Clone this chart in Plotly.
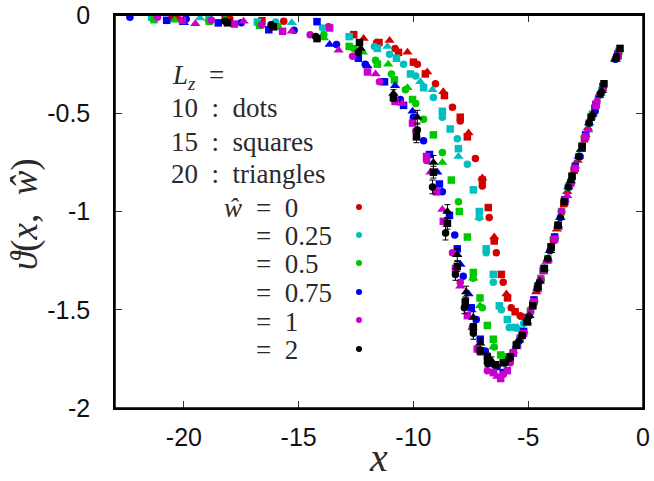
import plotly.graph_objects as go

# ---------------- data ----------------
R_DOT_X = [-20.3, -18.0, -15.65, -13.7, -11.6, -10.8, -9.83, -9.04, -8.3, -7.96, -7.3, -7.0, -6.7, -6.39, -6.09, -5.74, -5.35, -4.9, -4.45, -4.0, -3.55, -3.1, -2.65, -2.2, -1.9, -1.15]
R_DOT_Y = [-0.015, -0.019, -0.032, -0.06, -0.14, -0.17, -0.25, -0.35, -0.47, -0.54, -0.73, -0.87, -1.03, -1.21, -1.36, -1.49, -1.53, -1.50, -1.35, -1.18, -1.00, -0.83, -0.665, -0.505, -0.41, -0.21]
R_SQ_X = [-20.5, -18.2, -16.6, -12.6, -11.5, -10.65, -10.0, -9.48, -8.65, -7.96, -7.65, -7.0, -6.74, -6.48, -6.17, -5.9, -5.57, -5.13, -4.8, -4.35, -3.9, -3.45, -3.0, -2.55, -2.1, -1.75, -1.1]
R_SQ_Y = [-0.01, -0.015, -0.029, -0.10, -0.14, -0.19, -0.24, -0.30, -0.41, -0.52, -0.62, -0.84, -0.98, -1.15, -1.32, -1.44, -1.51, -1.54, -1.47, -1.30, -1.145, -0.96, -0.79, -0.63, -0.475, -0.365, -0.20]
R_TRI_X = [-20.45, -18.9, -12.17, -11.04, -10.26, -9.4, -8.7, -7.6, -7.0, -6.48, -5.95, -5.2, -4.65, -4.2, -3.75, -3.3, -2.85, -2.4, -1.8, -1.2]
R_TRI_Y = [-0.012, -0.02, -0.12, -0.13, -0.19, -0.29, -0.39, -0.60, -0.83, -1.13, -1.42, -1.54, -1.41, -1.255, -1.09, -0.90, -0.74, -0.575, -0.385, -0.225]

C_DOT_X = [-16.0, -13.96, -11.7, -11.04, -10.43, -9.9, -9.13, -8.74, -8.09, -7.65, -7.13, -6.83, -6.52, -6.17, -5.83, -5.2, -4.75, -4.3, -3.85, -3.4, -2.95, -2.5, -2.05, -1.15]
C_DOT_Y = [-0.036, -0.066, -0.16, -0.20, -0.25, -0.31, -0.42, -0.52, -0.63, -0.76, -1.03, -1.21, -1.36, -1.50, -1.59, -1.57, -1.45, -1.29, -1.13, -0.94, -0.77, -0.61, -0.455, -0.21]
C_SQ_X = [-21.4, -18.9, -16.8, -12.8, -11.57, -10.74, -10.13, -9.56, -8.74, -8.4, -8.04, -7.39, -7.13, -6.83, -6.52, -6.26, -5.91, -5.57, -5.04, -4.6, -4.15, -3.7, -3.25, -2.8, -2.35, -1.8, -1.1]
C_SQ_Y = [-0.012, -0.01, -0.036, -0.11, -0.17, -0.22, -0.30, -0.37, -0.49, -0.58, -0.68, -0.89, -1.0, -1.19, -1.32, -1.48, -1.55, -1.59, -1.555, -1.39, -1.24, -1.07, -0.875, -0.72, -0.55, -0.385, -0.20]
C_TRI_X = [-19.3, -15.3, -11.13, -9.7, -9.17, -8.04, -7.13, -5.39, -4.95, -4.5, -4.05, -3.6, -3.15, -2.7, -2.25, -1.2]
C_TRI_Y = [-0.015, -0.04, -0.16, -0.34, -0.38, -0.72, -1.03, -1.60, -1.53, -1.355, -1.20, -1.03, -0.845, -0.685, -0.52, -0.225]

G_DOT_X = [-15.9, -13.9, -12.6, -11.65, -10.96, -10.35, -9.9, -9.56, -8.74, -8.04, -7.4, -7.0, -6.48, -6.0, -5.5, -5.05, -4.6, -4.15, -3.7, -3.25, -2.8, -2.35, -1.9, -1.2]
G_DOT_Y = [-0.058, -0.10, -0.17, -0.23, -0.30, -0.38, -0.45, -0.53, -0.70, -0.95, -1.34, -1.49, -1.69, -1.74, -1.67, -1.56, -1.39, -1.24, -1.07, -0.875, -0.72, -0.55, -0.41, -0.225]
G_SQ_X = [-21.3, -18.9, -16.7, -12.8, -11.57, -10.83, -10.04, -9.13, -8.35, -8.0, -7.65, -7.39, -7.1, -6.78, -6.52, -6.2, -5.9, -5.35, -4.9, -4.45, -4.0, -3.55, -3.1, -2.65, -2.2, -1.75, -1.05]
G_SQ_Y = [-0.024, -0.032, -0.053, -0.16, -0.25, -0.33, -0.43, -0.61, -0.84, -1.0, -1.13, -1.31, -1.44, -1.58, -1.65, -1.73, -1.74, -1.645, -1.505, -1.34, -1.18, -1.0, -0.825, -0.665, -0.505, -0.365, -0.185]
G_TRI_X = [-20.4, -18.2, -13.9, -12.2, -11.1, -10.26, -8.74, -7.39, -7.1, -6.52, -5.65, -5.2, -4.75, -4.3, -3.85, -3.4, -2.95, -2.5, -1.85, -1.15]
G_TRI_Y = [-0.027, -0.02, -0.117, -0.19, -0.25, -0.37, -0.75, -1.34, -1.48, -1.69, -1.71, -1.61, -1.45, -1.29, -1.13, -0.94, -0.77, -0.61, -0.40, -0.21]

B_DOT_X = [-22.35, -19.9, -17.5, -15.2, -13.35, -12.1, -10.57, -10.0, -9.56, -8.74, -8.2, -7.83, -7.26, -6.87, -6.35, -5.85, -5.4, -4.95, -4.5, -4.05, -3.6, -3.15, -2.74, -2.09, -1.2]
B_DOT_Y = [-0.012, -0.02, -0.04, -0.078, -0.15, -0.25, -0.43, -0.52, -0.64, -0.90, -1.12, -1.33, -1.55, -1.71, -1.79, -1.75, -1.66, -1.53, -1.355, -1.20, -1.03, -0.845, -0.72, -0.49, -0.225]
B_SQ_X = [-20.75, -18.5, -16.3, -14.2, -12.4, -11.26, -10.43, -9.3, -8.87, -8.43, -8.09, -7.48, -7.09, -6.74, -6.09, -5.65, -5.2, -4.75, -4.3, -3.85, -3.4, -2.95, -2.5, -2.05, -1.75, -1.1]
B_SQ_Y = [-0.027, -0.04, -0.075, -0.034, -0.22, -0.34, -0.46, -0.71, -0.86, -1.02, -1.19, -1.49, -1.65, -1.76, -1.82, -1.72, -1.61, -1.45, -1.29, -1.13, -0.94, -0.77, -0.61, -0.455, -0.365, -0.20]
B_TRI_X = [-20.0, -13.65, -12.0, -10.8, -10.04, -8.96, -7.95, -7.6, -6.6, -5.5, -5.05, -4.6, -4.15, -3.7, -3.25, -2.8, -2.35, -1.9, -1.15]
B_TRI_Y = [-0.04, -0.15, -0.26, -0.36, -0.49, -0.80, -1.27, -1.42, -1.78, -1.68, -1.56, -1.39, -1.24, -1.07, -0.875, -0.72, -0.55, -0.41, -0.21]

M_DOT_X = [-21.15, -18.8, -16.6, -14.5, -12.65, -11.48, -9.9, -9.43, -8.3, -7.96, -7.43, -6.78, -6.1, -5.78, -5.35, -4.9, -4.45, -4.0, -3.55, -3.13, -2.65, -2.0, -1.1]
M_DOT_Y = [-0.012, -0.027, -0.05, -0.10, -0.21, -0.34, -0.59, -0.74, -1.21, -1.36, -1.59, -1.81, -1.83, -1.77, -1.64, -1.51, -1.345, -1.18, -1.0, -0.86, -0.665, -0.44, -0.20]
M_SQ_X = [-20.06, -17.8, -15.7, -13.65, -12.0, -10.8, -10.04, -9.43, -9.0, -8.7, -8.17, -7.65, -7.22, -6.52, -6.2, -5.91, -5.65, -5.2, -4.75, -4.3, -3.85, -3.4, -2.95, -2.5, -2.05, -1.75, -1.1]
M_SQ_Y = [-0.027, -0.046, -0.083, -0.066, -0.29, -0.44, -0.55, -0.72, -0.90, -1.05, -1.29, -1.53, -1.70, -1.82, -1.85, -1.81, -1.72, -1.62, -1.46, -1.30, -1.14, -0.95, -0.78, -0.62, -0.46, -0.37, -0.21]
M_TRI_X = [-19.5, -17.4, -15.3, -13.26, -11.65, -10.48, -9.26, -8.74, -7.96, -7.43, -6.35, -5.5, -5.05, -4.6, -4.15, -3.7, -3.3, -2.39, -1.87, -1.15]
M_TRI_Y = [-0.044, -0.032, -0.083, -0.18, -0.30, -0.45, -0.80, -0.99, -1.38, -1.59, -1.84, -1.69, -1.57, -1.40, -1.25, -1.08, -0.92, -0.585, -0.40, -0.21]

K_DOT_X = [-18.2, -16.2, -14.26, -12.4, -9.83, -9.17, -8.6, -8.17, -7.78, -7.39, -6.78, -6.0, -5.5, -5.05, -4.6, -4.15, -3.7, -3.25, -2.8, -2.35, -1.85, -1.15]
K_DOT_Y = [-0.032, -0.05, -0.11, -0.19, -0.585, -0.875, -1.11, -1.32, -1.49, -1.62, -1.77, -1.77, -1.68, -1.56, -1.39, -1.24, -1.07, -0.875, -0.72, -0.55, -0.40, -0.21]
K_DOT_ERR = [0, 0, 0, 0, 0.035, 0.035, 0.035, 0.03, 0.03, 0.03, 0.02, 0, 0, 0, 0, 0, 0, 0, 0, 0, 0, 0]
K_SQ_X = [-18.1, -16.1, -14.2, -12.35, -10.87, -9.87, -9.13, -8.52, -8.09, -7.74, -7.39, -7.09, -6.78, -6.43, -6.09, -5.78, -5.52, -5.26, -5.04, -4.8, -4.57, -4.3, -4.0, -3.7, -3.43, -3.09, -2.65, -2.26, -1.7, -1.0]
K_SQ_Y = [-0.04, -0.06, -0.12, -0.14, -0.42, -0.62, -0.80, -1.06, -1.28, -1.46, -1.59, -1.71, -1.74, -1.78, -1.77, -1.74, -1.68, -1.63, -1.56, -1.48, -1.38, -1.29, -1.18, -1.07, -0.95, -0.82, -0.67, -0.52, -0.35, -0.17]
K_SQ_ERR = [0, 0, 0, 0, 0.02, 0.03, 0.03, 0.03, 0.025, 0.025, 0.02, 0.02, 0.02, 0, 0, 0, 0, 0, 0, 0, 0, 0, 0, 0, 0, 0, 0, 0, 0, 0]
K_TRI_X = [-12.3, -10.87, -9.83, -9.13, -8.52, -8.09, -7.7, -7.39, -7.09, -6.6, -5.9, -5.4, -4.95, -4.5, -4.05, -3.6, -3.15, -2.7, -2.2, -1.8, -1.2]
K_TRI_Y = [-0.17, -0.40, -0.52, -0.75, -1.0, -1.22, -1.41, -1.54, -1.67, -1.76, -1.755, -1.655, -1.53, -1.355, -1.20, -1.03, -0.845, -0.685, -0.505, -0.385, -0.225]
K_TRI_ERR = [0, 0.02, 0.035, 0.035, 0.035, 0.03, 0.03, 0.03, 0.025, 0.02, 0, 0, 0, 0, 0, 0, 0, 0, 0, 0, 0]

W_LABELS = ["= 0", "= 0.25", "= 0.5", "= 0.75", "= 1", "= 2"]
COLORS = ["#d40000", "#00bfbf", "#00c800", "#0000f0", "#cc00cc", "#000000"]
X_TICKS = [-20, -15, -10, -5, 0]
X_TICKTEXT = ["-20", "-15", "-10", "-5", "0"]
Y_TICKS = [0, -0.5, -1, -1.5, -2]
Y_TICKTEXT = ["0", "-0.5", "-1", "-1.5", "-2"]

SERIES = [
    (R_DOT_X, R_DOT_Y, None, 0, "circle"), (R_SQ_X, R_SQ_Y, None, 0, "square"), (R_TRI_X, R_TRI_Y, None, 0, "triangle-up"),
    (C_DOT_X, C_DOT_Y, None, 1, "circle"), (C_SQ_X, C_SQ_Y, None, 1, "square"), (C_TRI_X, C_TRI_Y, None, 1, "triangle-up"),
    (G_DOT_X, G_DOT_Y, None, 2, "circle"), (G_SQ_X, G_SQ_Y, None, 2, "square"), (G_TRI_X, G_TRI_Y, None, 2, "triangle-up"),
    (B_DOT_X, B_DOT_Y, None, 3, "circle"), (B_SQ_X, B_SQ_Y, None, 3, "square"), (B_TRI_X, B_TRI_Y, None, 3, "triangle-up"),
    (M_DOT_X, M_DOT_Y, None, 4, "circle"), (M_SQ_X, M_SQ_Y, None, 4, "square"), (M_TRI_X, M_TRI_Y, None, 4, "triangle-up"),
    (K_DOT_X, K_DOT_Y, K_DOT_ERR, 5, "circle"), (K_SQ_X, K_SQ_Y, K_SQ_ERR, 5, "square"), (K_TRI_X, K_TRI_Y, K_TRI_ERR, 5, "triangle-up"),
]
SIZES = {"circle": 7.5, "square": 7.5, "triangle-up": 9}

fig = go.Figure()
for xs, ys, err, ci, sym in SERIES:
    kw = {}
    if err is not None:
        kw["error_y"] = dict(type="data", array=err, visible=True, color="#000000", thickness=1, width=3)
    fig.add_trace(go.Scatter(x=xs, y=ys, mode="markers", cliponaxis=False,
                             marker=dict(symbol=sym, size=SIZES[sym], color=COLORS[ci], line=dict(width=0)),
                             showlegend=False, hoverinfo="skip", **kw))

W, H = 654, 481
ML, MR, MT, MB = 115, 11, 15, 73
PW, PH = W - ML - MR, H - MT - MB

def px(xs):
    return (xs - ML) / PW

def py(ys):
    return (H - MB - ys) / PH

serif = "Liberation Serif"
txtcol = "#2a2a2a"
SP = "\u2002"
ann = []
ann.append(dict(text="<i>L</i><sub><i>z</i></sub>" + SP + "=", x=px(170), y=py(77)))
ann.append(dict(text="10" + SP + ":" + SP + "dots", x=px(169), y=py(108)))
ann.append(dict(text="15" + SP + ":" + SP + "squares", x=px(169), y=py(142)))
ann.append(dict(text="20" + SP + ":" + SP + "triangles", x=px(169), y=py(174)))
ann.append(dict(text="<i>ŵ</i>", x=px(222), y=py(208)))
row_y = [208, 236, 264, 293, 322, 350]
for lab, yy in zip(W_LABELS, row_y):
    ann.append(dict(text=lab.replace(" ", SP), x=px(254), y=py(yy)))
for a in ann:
    a.update(xref="paper", yref="paper", showarrow=False, xanchor="left", yanchor="middle",
             font=dict(family=serif, size=27, color=txtcol))
ann.append(dict(text="<i>x</i>", x=px(378), y=py(458), xref="paper", yref="paper", showarrow=False,
                xanchor="center", yanchor="middle", font=dict(family=serif, size=40, color=txtcol)))
ann.append(dict(text="<i>ϑ</i>(<i>x</i>," + SP + "<i>ŵ</i>)", x=px(25), y=py(214), xref="paper", yref="paper",
                showarrow=False, xanchor="center", yanchor="middle", textangle=-90,
                font=dict(family=serif, size=37, color=txtcol)))

shapes = [
    dict(type="rect", xref="paper", yref="paper", x0=0, x1=1, y0=0, y1=1,
         line=dict(color="#000000", width=1.5), fillcolor="rgba(0,0,0,0)", layer="above"),
    dict(type="line", xref="paper", yref="paper", x0=0, x1=1, y0=1, y1=1,
         line=dict(color="#000000", width=2), layer="above"),
]
for c, yy in zip(COLORS, [207, 235, 263, 292, 320, 349]):
    shapes.append(dict(type="circle", xref="paper", yref="paper", xsizemode="pixel", ysizemode="pixel",
                       xanchor=px(359), yanchor=py(yy), x0=-3, x1=3, y0=-3, y1=3,
                       fillcolor=c, line=dict(width=0)))

axis_common = dict(showline=True, linecolor="#000000", linewidth=1.5, mirror="ticks", ticks="inside",
                   ticklen=7, tickwidth=1, tickcolor="#333333", showgrid=False, zeroline=False,
                   automargin=False, ticklabeloverflow="allow",
                   tickfont=dict(family="Liberation Sans", size=25, color="#111111"))
fig.update_layout(
    template="none",
    width=W, height=H, margin=dict(l=ML, r=MR, t=MT, b=MB, autoexpand=False),
    paper_bgcolor="white", plot_bgcolor="white",
    xaxis=dict(range=[-23, 0], tickvals=X_TICKS, ticktext=X_TICKTEXT, ticklabelstandoff=6, **axis_common),
    yaxis=dict(range=[-2, 0], tickvals=Y_TICKS, ticktext=Y_TICKTEXT, ticklabelstandoff=18, **axis_common),
    annotations=ann, shapes=shapes,
)
fig.write_html("out.html", config={"displayModeBar": False},
               post_script="document.body.style.margin='0';document.body.style.overflow='hidden';")
